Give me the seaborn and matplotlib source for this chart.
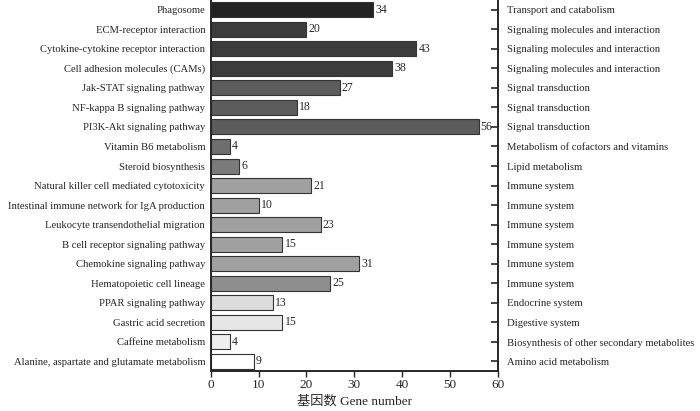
import matplotlib
matplotlib.use('Agg')
import pandas as pd
import matplotlib.pyplot as plt
import seaborn as sns

pathways = ['Phagosome', 'ECM-receptor interaction', 'Cytokine-cytokine receptor interaction',
            'Cell adhesion molecules (CAMs)', 'Jak-STAT signaling pathway', 'NF-kappa B signaling pathway',
            'PI3K-Akt signaling pathway', 'Vitamin B6 metabolism', 'Steroid biosynthesis',
            'Natural killer cell mediated cytotoxicity', 'Intestinal immune network for IgA production',
            'Leukocyte transendothelial migration', 'B cell receptor signaling pathway',
            'Chemokine signaling pathway', 'Hematopoietic cell lineage', 'PPAR signaling pathway',
            'Gastric acid secretion', 'Caffeine metabolism', 'Alanine, aspartate and glutamate metabolism']
gene_counts = [34, 20, 43, 38, 27, 18, 56, 4, 6, 21, 10, 23, 15, 31, 25, 13, 15, 4, 9]
classes = ['Transport and catabolism', 'Signaling molecules and interaction',
           'Signaling molecules and interaction', 'Signaling molecules and interaction',
           'Signal transduction', 'Signal transduction', 'Signal transduction',
           'Metabolism of cofactors and vitamins', 'Lipid metabolism', 'Immune system',
           'Immune system', 'Immune system', 'Immune system', 'Immune system', 'Immune system',
           'Endocrine system', 'Digestive system', 'Biosynthesis of other secondary metabolites',
           'Amino acid metabolism']
bar_colors = ['#232323', '#3c3c3c', '#3c3c3c', '#3c3c3c', '#5c5c5c', '#5c5c5c', '#5c5c5c',
              '#6e6e6e', '#7a7a7a', '#a0a0a0', '#a0a0a0', '#a0a0a0', '#a0a0a0', '#a0a0a0',
              '#8e8e8e', '#dcdcdc', '#e6e6e6', '#eeeeee', '#ffffff']

df = pd.DataFrame({'pathway': pathways, 'count': gene_counts})

sns.set_style('ticks')
plt.rcParams['font.family'] = ['Liberation Serif', 'Noto Sans CJK SC']
plt.rcParams['font.size'] = 8

fig = plt.figure(figsize=(7, 4.11), dpi=100)
ax = fig.add_axes([0.301, 0.097, 0.41, 0.903])
sns.barplot(data=df, x='count', y='pathway', hue='pathway', palette=bar_colors,
            legend=False, width=0.77, edgecolor='#333333', linewidth=0.8, ax=ax)
for c in ax.containers:
    ax.bar_label(c, padding=1.5, fontsize=8.5)

ax.set_xlim(0, 60)
ax.set_ylim(len(pathways) - 0.5, -0.5)
ax.set_xticks(range(0, 61, 10))
ax.set_xlabel('基因数 Gene number', fontsize=9.5, labelpad=3)
ax.set_ylabel('')
ax.tick_params(axis='y', length=0, pad=4, labelsize=7.7)
ax.tick_params(axis='x', direction='out', length=4, width=1, labelsize=9.5, pad=2)
for s in ax.spines.values():
    s.set_linewidth(1.2)
    s.set_visible(True)
ax.spines['top'].set_visible(False)

ax2 = ax.twinx()
ax2.set_ylim(ax.get_ylim())
ax2.set_yticks(range(len(classes)))
ax2.set_yticklabels(classes)
ax2.tick_params(axis='y', direction='in', length=5, width=1.2, pad=6.5, labelsize=7.7)
for s in ax2.spines.values():
    s.set_linewidth(1.2)
ax2.spines['top'].set_visible(False)

fig.savefig('out.png', dpi=100)
